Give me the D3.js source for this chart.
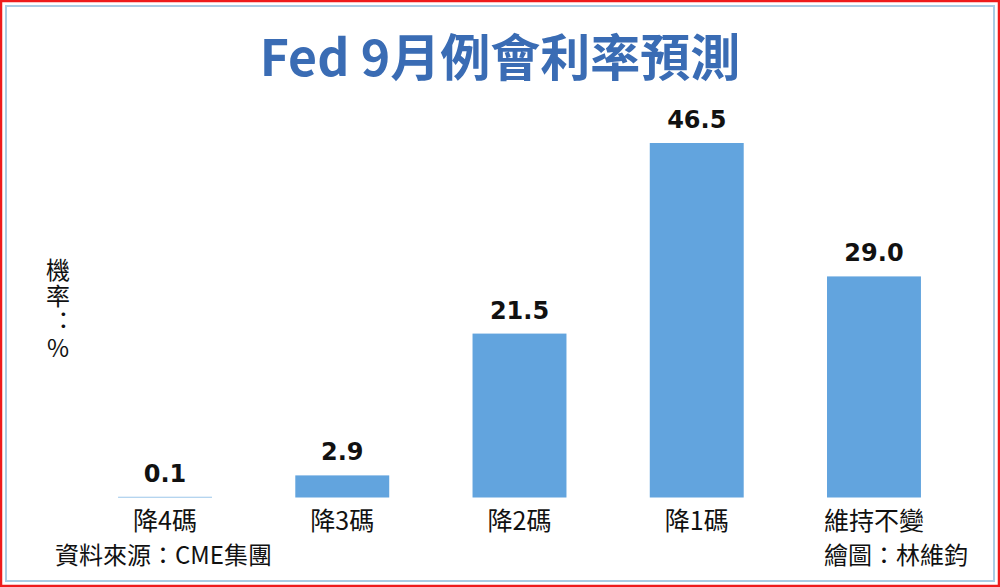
<!DOCTYPE html>
<html><head><meta charset="utf-8">
<script src="https://cdn.jsdelivr.net/npm/d3@7"></script>
<style>body{margin:0;background:#fff}svg{display:block}</style>
</head><body>
<script>
const categories = ["降4碼","降3碼","降2碼","降1碼","維持不變"];
const values = [0.1, 2.9, 21.5, 46.5, 29.0];
const valueLabels = ["0.1","2.9","21.5","46.5","29.0"];
const title = "Fed 9月例會利率預測";
const yLabel = "機率：%";
const source = "資料來源：CME集團";
const credit = "繪圖：林維鈞";

const W = 1000, H = 587;
const svg = d3.select("body").append("svg").attr("width", W).attr("height", H);
const font = "'Noto Sans CJK TC','Noto Sans',sans-serif";

// frame
svg.append("rect").attr("x",1).attr("y",1).attr("width",W-2).attr("height",H-2)
  .attr("fill","none").attr("stroke","#ee1c1c").attr("stroke-width",2.5);
svg.append("rect").attr("x",6).attr("y",6).attr("width",W-12).attr("height",H-12)
  .attr("fill","none").attr("stroke","#a9cce3").attr("stroke-width",2);

const x = d3.scaleBand().domain(categories).range([76.4, 962.6])
  .paddingInner(0.47).paddingOuter(0.235);
const y = d3.scaleLinear().domain([0, 46.5]).range([497.5, 143]);

svg.append("text").attr("x", 500).attr("y", 76).attr("text-anchor","middle")
  .attr("font-family", font).attr("font-weight","bold").attr("font-size",50)
  .attr("fill","#3a6cb4").text(title);

const g = svg.append("g");
g.selectAll("rect.bar").data(values).join("rect").attr("class","bar")
  .attr("x",(d,i)=>x(categories[i])).attr("width",x.bandwidth())
  .attr("y",d=>y(d)).attr("height",d=>Math.max(1, y(0)-y(d)))
  .attr("fill",(d)=> d < 1 ? "#9cc7ea" : "#62a4de");

g.selectAll("text.val").data(values).join("text").attr("class","val")
  .attr("x",(d,i)=>x(categories[i])+x.bandwidth()/2)
  .attr("y",d=>Math.min(y(d), y(0)-1)-15)
  .attr("text-anchor","middle").attr("font-family","'DejaVu Sans',sans-serif")
  .attr("font-weight","bold").attr("font-size",24).attr("fill","#111")
  .text((d,i)=>valueLabels[i]);

const xAxis = d3.axisBottom(x).tickSize(0).tickPadding(0);
const ax = svg.append("g").attr("transform",`translate(0,${y(0)})`).call(xAxis);
ax.select(".domain").remove();
ax.selectAll("text").attr("font-family",font).attr("font-size",25).attr("fill","#111")
  .attr("dy",null).attr("y",32);

svg.append("text").attr("x",58).attr("y",258)
  .attr("font-family",font).attr("font-size",24).attr("fill","#111")
  .style("writing-mode","vertical-rl").style("text-orientation","upright")
  .style("font-feature-settings","'vert' 0, 'vrt2' 0")
  .style("letter-spacing","2px")
  .text(yLabel);

svg.append("text").attr("x",55).attr("y",564).attr("font-family",font)
  .attr("font-size",24).attr("fill","#111").text(source);
svg.append("text").attr("x",968).attr("y",564).attr("text-anchor","end")
  .attr("font-family",font).attr("font-size",24).attr("fill","#111").text(credit);
</script>
</body></html>
